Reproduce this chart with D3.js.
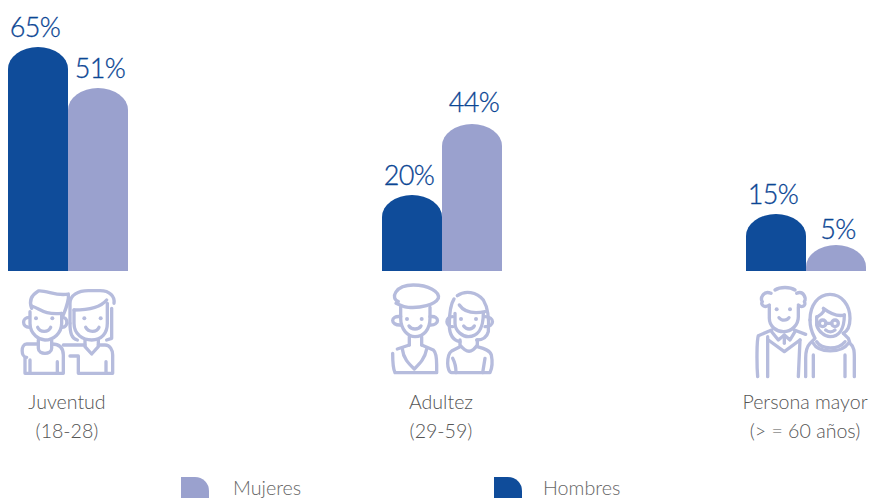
<!DOCTYPE html>
<html lang="es">

<head>
    <meta charset="UTF-8">
    <title>Grupos de edad</title>
    <style>
        body {
            padding: 0px;
            margin: 0px;
            background-color: white;
        }

        svg {
            display: block;
        }

        text {
            font-family: Lato, "Open Sans", sans-serif;
            font-weight: 300;
        }

        .value {
            font-size: 27px;
            letter-spacing: -0.7px;
            fill: #0b4694;
            stroke: #0b4694;
            stroke-width: 0.3px;
            text-anchor: middle;
        }

        .category {
            font-size: 19.6px;
            fill: #555555;
            text-anchor: middle;
        }

        .legend-label {
            font-size: 19.7px;
            fill: #666666;
        }

        .icon path,
        .icon circle {
            fill: none;
            stroke: #b6bcdd;
            stroke-width: 10;
            stroke-linecap: round;
            stroke-linejoin: round;
        }

        .icon circle.eye {
            fill: #b6bcdd;
            stroke: none;
        }
    </style>
</head>

<body>
    <div id="chart"></div>

    <script src="https://cdn.jsdelivr.net/npm/d3@7"></script>
    <script>

        // data
        const categories = ['Juventud', 'Adultez', 'Persona mayor'];
        const categoryLines = [['Juventud', '(18-28)'], ['Adultez', '(29-59)'], ['Persona mayor', '(> = 60 años)']];
        const series = ['Hombres', 'Mujeres'];
        const hombres = [65, 20, 15];
        const mujeres = [51, 44, 5];
        const legendOrder = ['Mujeres', 'Hombres'];

        const w = 871;
        const h = 498;
        const baseline = 271;

        const colors = d3.scaleOrdinal()
            .domain(series)
            .range(['#0f4c9a', '#9aa1ce']);

        // groups are not evenly spaced in the original
        const groupScale = d3.scaleOrdinal()
            .domain(categories)
            .range([68, 442, 806]);

        const barScale = d3.scaleBand()
            .domain(series)
            .range([-60, 60]);

        // the bars of the original are not proportional to their labels,
        // so this scale has one stop for each value
        const yScale = d3.scaleLinear()
            .domain([0, 5, 15, 20, 44, 51, 65])
            .range([baseline, 245, 214, 195, 124, 88, 47]);

        const svg = d3.select('#chart')
            .append('svg')
            .attr('width', w)
            .attr('height', h);

        // bar with a domed top
        function domePath(x, y, width, bottom) {
            const rx = width / 2;
            const ry = Math.min(22, bottom - y);
            return `M${x},${bottom}V${y + ry}A${rx},${ry} 0 0 1 ${x + width},${y + ry}V${bottom}Z`;
        }

        const bars = [];
        categories.forEach((c, i) => {
            bars.push({ category: c, serie: 'Hombres', value: hombres[i] });
            bars.push({ category: c, serie: 'Mujeres', value: mujeres[i] });
        });

        svg.selectAll('path.bar')
            .data(bars)
            .enter()
            .append('path')
            .attr('class', 'bar')
            .attr('fill', (d) => colors(d.serie))
            .attr('d', (d) => domePath(
                groupScale(d.category) + barScale(d.serie),
                yScale(d.value),
                barScale.bandwidth(),
                baseline));

        // labels sit a bit off centre, away from the neighbour bar
        svg.selectAll('text.value')
            .data(bars)
            .enter()
            .append('text')
            .attr('class', 'value')
            .attr('x', (d) => groupScale(d.category) + barScale(d.serie) + barScale.bandwidth() / 2 + (d.serie === 'Hombres' ? -3 : 2))
            .attr('y', (d) => yScale(d.value) - (d.value === 5 ? 6 : d.value === 44 ? 12 : 10))
            .text((d) => `${d.value}%`);

        // category labels
        const labels = svg.selectAll('text.category')
            .data(categories)
            .enter()
            .append('text')
            .attr('class', 'category')
            .attr('y', 409);

        labels.selectAll('tspan')
            .data((d, i) => categoryLines[i].map((line) => ({ line: line, category: d })))
            .enter()
            .append('tspan')
            .attr('x', (d) => groupScale(d.category) - 1)
            .attr('dy', (d, i) => (i === 0 ? 0 : 29))
            .text((d) => d.line);

        // legend
        const legend = svg.selectAll('g.legend')
            .data(legendOrder)
            .enter()
            .append('g')
            .attr('class', 'legend')
            .attr('transform', (d, i) => `translate(${i === 0 ? 181 : 494}, 477)`);

        legend.append('path')
            .attr('fill', (d) => colors(d))
            .attr('d', 'M0,0H14A14,14 0 0 1 28,14V30H0Z');

        legend.append('text')
            .attr('class', 'legend-label')
            .attr('x', (d, i) => (i === 0 ? 52 : 49))
            .attr('y', 18)
            .text((d) => d);

        // icons, drawn at 3x and scaled down
        const iconJoven = [
            'M95,85C85,60 95,45 115,33C140,30 170,50 205,42C208,60 200,80 190,105',
            'M95,78C120,85 130,105 185,100',
            'M90,95V130C90,165 120,180 135,180C160,180 185,160 185,130V100',
            'M88,112C65,112 65,142 88,142', 'M187,112C205,112 205,142 187,142',
            'M113,142C120,158 145,158 152,142',
            'M115,180V205C115,225 155,225 155,205V180',
            'M115,192H80C62,192 62,232 80,232', 'M75,232V280H190V225C190,205 180,192 155,192',
            'M90,240V280', 'M172,245V280',
            'M210,130V70C210,45 235,32 265,32H300C330,32 345,50 342,70', 'M335,85V175L320,180',
            'M222,90C260,90 300,85 320,60',
            'M222,90V130C222,165 250,180 275,180C305,180 322,160 322,130V70',
            'M210,130C210,160 215,175 232,180',
            'M257,142C265,158 290,158 297,142',
            'M255,180V200L275,222L295,200V180',
            'M190,195H255', 'M295,195H315C330,195 338,210 338,225V280H235V228H210', 'M318,245V280'
        ];
        const iconAdulto = [
            'M85,80C60,70 75,30 130,30C175,30 210,50 205,70C195,90 150,100 115,97C100,97 90,90 78,85',
            'M92,95V130C92,165 115,185 135,185C160,185 180,165 180,130V97',
            'M92,125C60,120 60,152 92,150', 'M180,125C210,120 210,152 180,150',
            'M117,153C125,165 145,165 153,153',
            'M118,185V210', 'M155,185V210',
            'M82,222L118,210', 'M155,210L190,225C198,232 200,245 200,270V293H75C68,280 68,250 68,235',
            'M97,222C100,250 115,265 133,282C150,265 165,250 170,222',
            'M262,62C285,45 320,50 340,75C355,100 358,130 355,170C350,190 335,195 320,195',
            'M252,72C240,90 238,120 238,150C238,175 245,195 270,200',
            'M268,90C285,115 320,115 345,110',
            'M255,115V145C255,170 280,185 295,185C320,185 340,165 340,115',
            'M248,125C225,125 225,155 248,155', 'M345,125C375,125 375,155 345,155',
            'M281,153C290,165 305,165 313,153',
            'M270,195V210C290,235 305,235 322,210V195',
            'M270,215L245,228C235,235 233,250 233,265C233,280 238,293 245,293H360C366,280 368,260 364,240C360,225 340,220 322,215',
            'M248,250C256,265 258,280 258,293', 'M345,250L338,293'
        ];
        const iconMayor = [
            'M120,45C135,35 165,35 180,45',
            'M103,95V130C103,155 125,170 145,170C170,170 190,150 190,125V95',
            'M108,55C85,45 75,70 82,80C75,90 90,100 103,90',
            'M185,55C205,45 215,70 208,80C215,92 200,100 190,90',
            'M132,128C140,138 155,138 162,128',
            'M110,165L70,182C65,195 65,270 68,305', 'M98,185V305',
            'M100,195L148,230L195,195',
            'M110,170L130,195L148,180L165,195L180,170', 'M148,180V205',
            'M178,165L212,178', 'M195,195L190,305',
            'M225,135C225,90 250,58 285,58C320,58 345,90 345,130C345,160 335,170 325,175',
            'M225,135C225,165 235,180 240,190L225,205C215,215 212,230 212,250V305',
            'M325,175L340,190L345,205C358,215 358,230 358,250V305',
            'M245,125V150C250,170 270,185 285,185C310,185 328,165 328,120',
            'M248,125C265,115 270,105 265,100C285,115 310,125 328,120',
            'M273,145H290',
            'M272,165C280,172 292,172 300,165',
            'M235,205C250,235 320,235 340,205', 'M245,200C260,225 310,225 330,200',
            'M235,240V305', 'M330,240V305'
        ];

        function drawIcon(x, y, paths, eyes, rings) {
            const icon = svg.append('g')
                .attr('class', 'icon')
                .attr('transform', `translate(${x}, ${y}) scale(${1 / 3})`);

            icon.selectAll('path')
                .data(paths)
                .enter()
                .append('path')
                .attr('d', (d) => d);

            icon.selectAll('circle.eye')
                .data(eyes)
                .enter()
                .append('circle')
                .attr('class', 'eye')
                .attr('cx', (d) => d[0])
                .attr('cy', (d) => d[1])
                .attr('r', 6);

            icon.selectAll('circle.ring')
                .data(rings)
                .enter()
                .append('circle')
                .attr('class', 'ring')
                .attr('cx', (d) => d[0])
                .attr('cy', (d) => d[1])
                .attr('r', 10);
        }

        drawIcon(0, 280, iconJoven, [[108, 115], [157, 115], [253, 115], [302, 115]], []);
        drawIcon(370, 275, iconAdulto, [[111, 132], [155, 132], [273, 132], [318, 132]], []);
        drawIcon(735, 275, iconMayor, [[125, 103], [165, 103]], [[263, 145], [300, 145]]);

    </script>
</body>

</html>
